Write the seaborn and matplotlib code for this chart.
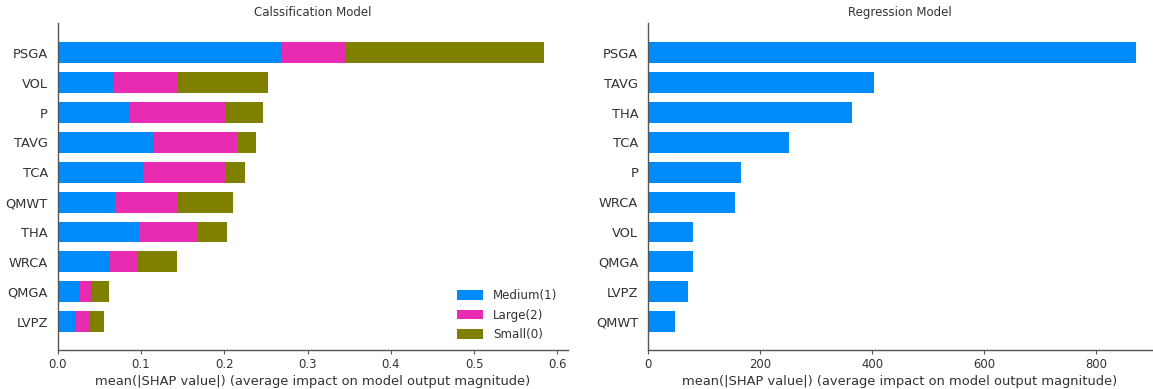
import numpy as np
import pandas as pd
import matplotlib
matplotlib.use("Agg")
import matplotlib.pyplot as plt
from matplotlib.patches import Patch
import seaborn as sns

# Classification model: mean |SHAP| per class, features ordered by total impact
clf_features = ["PSGA", "VOL", "P", "TAVG", "TCA", "QMWT", "THA", "WRCA", "QMGA", "LVPZ"]
clf_medium = [0.268, 0.066, 0.0855, 0.115, 0.102, 0.0686, 0.0974, 0.0624, 0.0266, 0.0221]
clf_large = [0.0765, 0.079, 0.116, 0.101, 0.0995, 0.0764, 0.0706, 0.0328, 0.0134, 0.0164]
clf_small = [0.2395, 0.108, 0.045, 0.0227, 0.023, 0.066, 0.035, 0.0478, 0.0216, 0.0169]
class_names = ["Medium(1)", "Large(2)", "Small(0)"]

# Regression model: mean |SHAP| per feature
reg_features = ["PSGA", "TAVG", "THA", "TCA", "P", "WRCA", "VOL", "QMGA", "LVPZ", "QMWT"]
reg_values = [871, 403, 364, 252, 166, 156, 81, 80, 71, 47.5]

colors = ["#008bfb", "#e82bb0", "#808000"]
text_color = "#333333"
xlabel = "mean(|SHAP value|) (average impact on model output magnitude)"

sns.set_style("white")
plt.rcParams["font.family"] = ["DejaVu Sans"]

fig = plt.figure(figsize=(11.53, 3.89), dpi=100)
ax1 = fig.add_axes([0.05, 0.1003, 0.4426, 0.8407])
ax2 = fig.add_axes([0.562, 0.1003, 0.4372, 0.8407])

# Stacked bars: draw cumulative totals from the outermost layer inward
clf = pd.DataFrame({"feature": clf_features,
                    "Medium(1)": clf_medium,
                    "Large(2)": clf_large,
                    "Small(0)": clf_small})
cum = clf[class_names].cumsum(axis=1)
for name, col in reversed(list(zip(class_names, colors))):
    sns.barplot(x=cum[name], y=clf["feature"], color=col, width=0.7,
                orient="h", linewidth=0, saturation=1, ax=ax1)
ax1.set_xlim(0, 0.6126)
ax1.set_ylim(9.95, -1)
ax1.set_title("Calssification Model", fontsize=8.5, color=text_color, pad=5)
handles = [Patch(facecolor=c, edgecolor="none", label=n) for n, c in zip(class_names, colors)]
ax1.legend(handles=handles, loc="lower right", frameon=False, fontsize=8.6,
           handlelength=2.2, handleheight=0.9, bbox_to_anchor=(1.0, -0.006),
           labelcolor=text_color, labelspacing=0.55)

reg = pd.DataFrame({"feature": reg_features, "value": reg_values})
sns.barplot(data=reg, x="value", y="feature", color=colors[0], width=0.7,
            orient="h", linewidth=0, saturation=1, ax=ax2)
ax2.set_xlim(0, 900)
ax2.set_ylim(9.95, -1)
ax2.set_xticks([0, 200, 400, 600, 800])
ax2.set_title("Regression Model", fontsize=8.5, color=text_color, pad=5)

for ax in (ax1, ax2):
    ax.set_ylabel("")
    ax.set_xlabel(xlabel, fontsize=9.4, color=text_color, labelpad=3)
    for side in ("top", "right"):
        ax.spines[side].set_visible(False)
    for side in ("left", "bottom"):
        ax.spines[side].set_color("#555555")
        ax.spines[side].set_linewidth(1.0)
    ax.tick_params(axis="y", length=0, labelsize=9.4, labelcolor=text_color, pad=7)
    ax.tick_params(axis="x", length=3, width=0.8, color="#555555", bottom=True,
                   labelsize=8.4, labelcolor=text_color, pad=2.5)

fig.savefig("out.png", dpi=100)
